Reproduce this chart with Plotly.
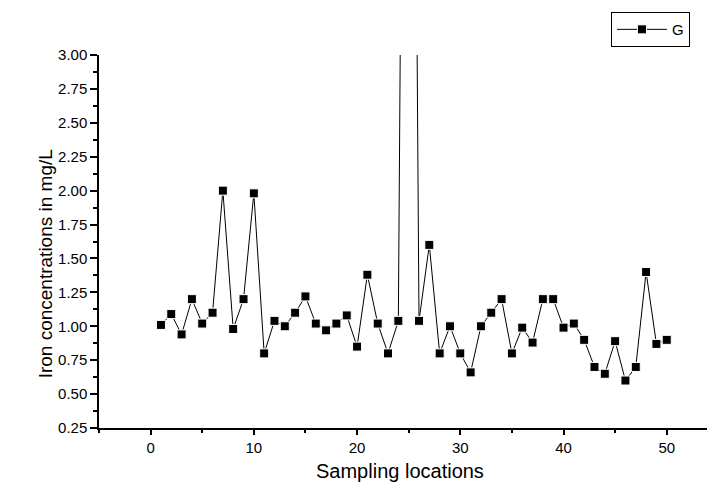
import plotly.graph_objects as go

# sampling locations 1..50 and iron concentration (mg/L)
locations = list(range(1, 51))
iron = [1.01, 1.09, 0.94, 1.20, 1.02, 1.10, 2.00, 0.98, 1.20, 1.98,
        0.80, 1.04, 1.00, 1.10, 1.22, 1.02, 0.97, 1.02, 1.08, 0.85,
        1.38, 1.02, 0.80, 1.04, 12.0, 1.04, 1.60, 0.80, 1.00, 0.80,
        0.66, 1.00, 1.10, 1.20, 0.80, 0.99, 0.88, 1.20, 1.20, 0.99,
        1.02, 0.90, 0.70, 0.65, 0.89, 0.60, 0.70, 1.40, 0.87, 0.90]

y_ticks = [0.25, 0.50, 0.75, 1.00, 1.25, 1.50, 1.75, 2.00, 2.25, 2.50, 2.75, 3.00]
y_labels = ["%.2f" % v for v in y_ticks]
x_ticks = [0, 10, 20, 30, 40, 50]

font = "Liberation Sans, Arial, sans-serif"

fig = go.Figure(go.Scatter(
    x=locations, y=iron, name="G", mode="lines+markers",
    line=dict(color="black", width=1),
    marker=dict(symbol="square", size=9, color="black",
                line=dict(color="white", width=1)),
))

fig.update_layout(
    width=707, height=484,
    margin=dict(l=99, r=0, t=55, b=56),
    paper_bgcolor="white", plot_bgcolor="white",
    font=dict(family=font, color="black", size=15),
    showlegend=True,
    legend=dict(x=0.972, y=1.115, xanchor="right", yanchor="top",
                bordercolor="black", borderwidth=1, bgcolor="white",
                font=dict(size=15), itemwidth=50,
                tracegroupgap=0),
    annotations=[
        dict(text="Iron concentrations in mg/L", xref="paper", yref="paper",
             x=-0.1086, y=0.44, textangle=-90, showarrow=False,
             font=dict(size=19)),
        dict(text="Sampling locations", xref="paper", yref="paper",
             x=0.495, y=-0.115, yanchor="middle", showarrow=False,
             font=dict(size=20)),
    ],
)

fig.update_xaxes(
    range=[-5, 53.9], tickvals=x_ticks, ticks="outside", ticklen=5,
    tickwidth=1.5, tickcolor="black", showline=True, linecolor="black",
    linewidth=1.5, showgrid=False, zeroline=False,
    minor=dict(dtick=5, tick0=0, ticks="outside", ticklen=3,
               tickcolor="black", tickwidth=1.5),
)
fig.update_yaxes(
    range=[0.25, 3.0], tickvals=y_ticks, ticktext=y_labels,
    ticks="outside", ticklen=7, tickwidth=1.5, tickcolor="black",
    showline=True, linecolor="black", linewidth=1.5,
    showgrid=False, zeroline=False,
    minor=dict(dtick=0.125, tick0=0.25, ticks="outside", ticklen=4,
               tickcolor="black", tickwidth=1.5),
)

# the page body has a default 8px margin; remove it so the figure sits at 0,0
fig.write_html("out.html", config={"displayModeBar": False},
               post_script="document.body.style.margin='0';")
